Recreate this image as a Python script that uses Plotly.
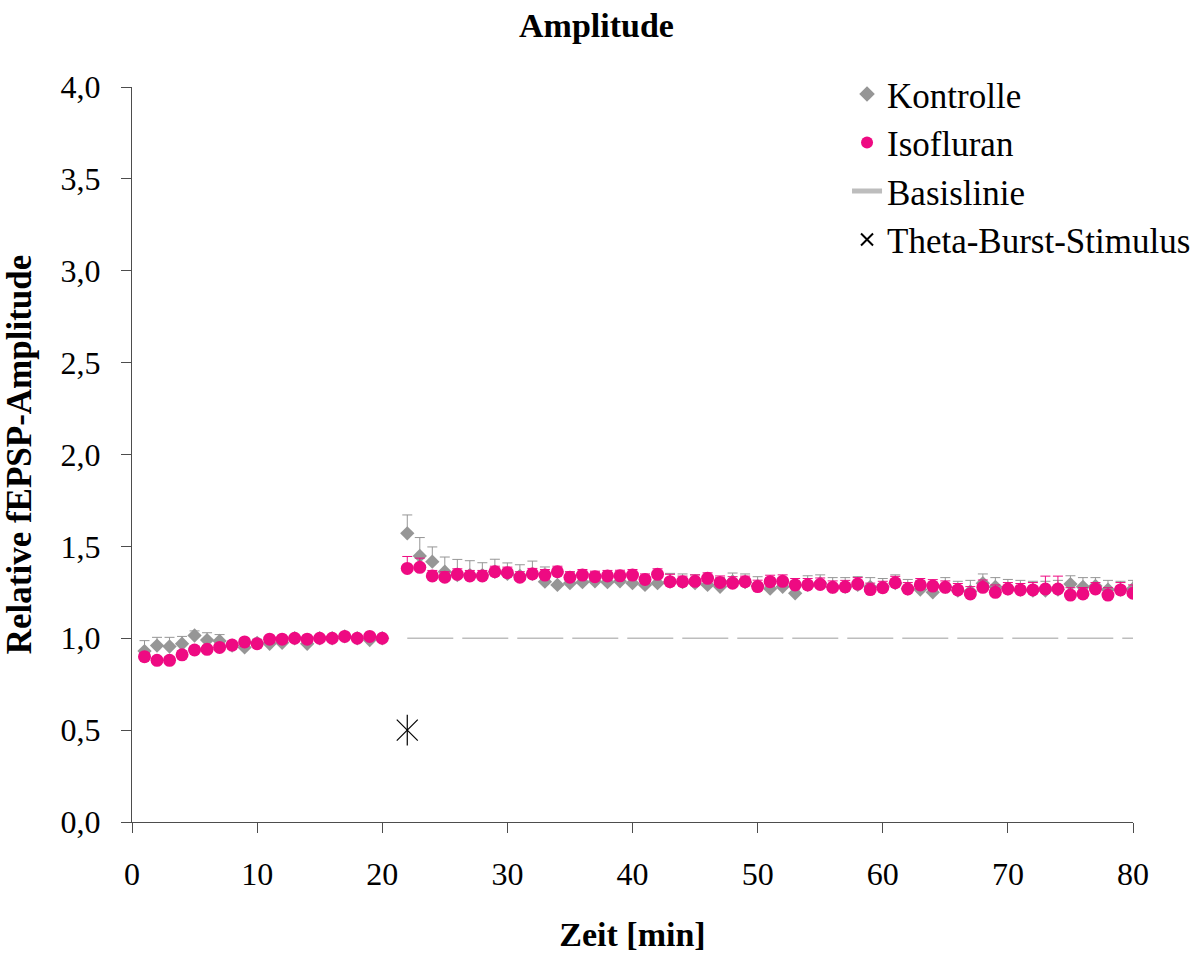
import plotly.graph_objects as go

# ---- data ----
time_pre = list(range(1, 21))
time_post = list(range(22, 81))
time = time_pre + time_post

kontrolle = [0.93, 0.96, 0.955, 0.97, 1.015, 0.99, 0.985, 0.96, 0.95, 0.975,
             0.97, 0.975, 1.0, 0.97, 1.0, 1.0, 1.01, 1.0, 0.99, 1.0,
             1.571, 1.448, 1.417, 1.362, 1.344, 1.344, 1.344, 1.362, 1.35, 1.34,
             1.35, 1.308, 1.29, 1.30, 1.305, 1.31, 1.305, 1.31, 1.30, 1.29,
             1.30, 1.308, 1.305, 1.30, 1.29, 1.28, 1.31, 1.305, 1.285, 1.27,
             1.28, 1.245, 1.29, 1.30, 1.28, 1.28, 1.29, 1.28, 1.28, 1.30,
             1.27, 1.265, 1.25, 1.28, 1.26, 1.255, 1.30, 1.28, 1.27, 1.265,
             1.26, 1.26, 1.265, 1.295, 1.28, 1.285, 1.265, 1.265, 1.27]
kontrolle_err = [0.057, 0.045, 0.05, 0.04, 0.025, 0.04, 0.035, 0.02, 0.02, 0.02,
                 0.02, 0.02, 0.015, 0.02, 0.015, 0.015, 0.015, 0.015, 0.02, 0.015,
                 0.10, 0.10, 0.08, 0.08, 0.085, 0.078, 0.067, 0.068, 0.06, 0.06,
                 0.07, 0.08, 0.07, 0.06, 0.06, 0.05, 0.05, 0.05, 0.05, 0.05,
                 0.05, 0.045, 0.045, 0.045, 0.05, 0.05, 0.045, 0.045, 0.05, 0.06,
                 0.05, 0.06, 0.05, 0.045, 0.05, 0.05, 0.045, 0.05, 0.045, 0.045,
                 0.05, 0.05, 0.055, 0.05, 0.05, 0.06, 0.05, 0.05, 0.05, 0.05,
                 0.05, 0.05, 0.05, 0.045, 0.05, 0.045, 0.05, 0.045, 0.045]
isofluran = [0.90, 0.88, 0.88, 0.91, 0.936, 0.94, 0.95, 0.963, 0.98, 0.97,
             0.995, 0.995, 1.0, 0.995, 1.0, 1.0, 1.01, 1.0, 1.01, 1.0,
             1.38, 1.386, 1.339, 1.332, 1.348, 1.339, 1.339, 1.362, 1.357, 1.332,
             1.35, 1.344, 1.362, 1.332, 1.344, 1.335, 1.339, 1.34, 1.344, 1.32,
             1.348, 1.308, 1.308, 1.31, 1.326, 1.304, 1.30, 1.308, 1.281, 1.308,
             1.31, 1.29, 1.29, 1.293, 1.277, 1.28, 1.295, 1.265, 1.275, 1.302,
             1.268, 1.29, 1.284, 1.277, 1.263, 1.241, 1.277, 1.25, 1.268, 1.263,
             1.263, 1.268, 1.268, 1.235, 1.241, 1.268, 1.235, 1.263, 1.245]
isofluran_err = [0.02, 0.02, 0.02, 0.02, 0.02, 0.02, 0.02, 0.02, 0.015, 0.015,
                 0.015, 0.015, 0.015, 0.015, 0.015, 0.015, 0.015, 0.015, 0.015, 0.015,
                 0.065, 0.05, 0.03, 0.03, 0.03, 0.03, 0.03, 0.03, 0.03, 0.03,
                 0.03, 0.03, 0.03, 0.03, 0.03, 0.03, 0.03, 0.03, 0.03, 0.03,
                 0.03, 0.04, 0.03, 0.035, 0.03, 0.035, 0.035, 0.03, 0.035, 0.035,
                 0.035, 0.035, 0.035, 0.035, 0.035, 0.035, 0.035, 0.035, 0.035, 0.035,
                 0.035, 0.035, 0.035, 0.035, 0.035, 0.04, 0.04, 0.04, 0.035, 0.035,
                 0.04, 0.07, 0.07, 0.04, 0.035, 0.035, 0.04, 0.04, 0.045]
baseline_x = [22, 81]
baseline_y = [1.0, 1.0]
tbs_x = [22]
tbs_y = [0.5]

y_ticks = [0, 0.5, 1.0, 1.5, 2.0, 2.5, 3.0, 3.5, 4.0]
x_ticks = [0, 10, 20, 30, 40, 50, 60, 70, 80]

GRAY = "#969696"
PINK = "#EE0A82"
FONT = "Liberation Serif"

fig = go.Figure()
fig.add_trace(go.Scatter(
    x=time, y=kontrolle, mode="markers", name="Kontrolle",
    marker=dict(symbol="diamond", size=11, color=GRAY, line=dict(width=0)),
    error_y=dict(type="data", array=kontrolle_err, symmetric=False,
                 arrayminus=[0] * len(kontrolle_err), color=GRAY,
                 thickness=1, width=5),
))
fig.add_trace(go.Scatter(
    x=time, y=isofluran, mode="markers", name="Isofluran",
    marker=dict(symbol="circle", size=13, color=PINK, line=dict(width=0)),
    error_y=dict(type="data", array=isofluran_err, symmetric=False,
                 arrayminus=[0] * len(isofluran_err), color=PINK,
                 thickness=1, width=5),
))
fig.add_trace(go.Scatter(
    x=baseline_x, y=baseline_y, mode="lines", name="Basislinie",
    line=dict(color="#BDBDBD", width=1.5, dash="46px,9px"),
))
fig.add_trace(go.Scatter(
    x=tbs_x, y=tbs_y, mode="markers", name="Theta-Burst-Stimulus",
    marker=dict(symbol="x-thin-open", size=21, color="black",
                line=dict(width=1.2, color="black")),
))
fig.add_trace(go.Scatter(
    x=tbs_x, y=tbs_y, mode="markers", showlegend=False, hoverinfo="skip",
    marker=dict(symbol="line-ns-open", size=22, color="black",
                line=dict(width=1.2, color="black")),
))

fig.update_layout(
    width=1193, height=953,
    margin=dict(l=132, r=60, t=87, b=131, autoexpand=False),
    paper_bgcolor="white", plot_bgcolor="white",
    separators=",.",
    font=dict(family=FONT, size=32, color="black"),
    title=dict(text="<b>Amplitude</b>", x=0.5, xref="container",
               y=1 - 25 / 953, yref="container", yanchor="middle",
               font=dict(family=FONT, size=34, color="black")),
    showlegend=True,
    legend=dict(x=0.710, y=0.932, xref="container", yref="container",
                xanchor="left", yanchor="top",
                bgcolor="rgba(0,0,0,0)", font=dict(family=FONT, size=35),
                itemsizing="constant", tracegroupgap=0),
    xaxis=dict(range=[0, 80], tickvals=x_ticks, ticks="outside", ticklen=10,
               tickcolor="#4d4d4d", showline=True, linecolor="#4d4d4d",
               linewidth=1, showgrid=False, zeroline=False, automargin=False,
               tickfont=dict(family=FONT, size=32),
               ticklabelstandoff=14,
               title=dict(text="<b>Zeit [min]</b>", standoff=34,
                          font=dict(family=FONT, size=34))),
    yaxis=dict(range=[0, 4], tickvals=y_ticks, tickformat=".1f", ticks="outside",
               ticklen=10, tickcolor="#4d4d4d", showline=True,
               linecolor="#4d4d4d", linewidth=1, showgrid=False,
               zeroline=False, automargin=False,
               tickfont=dict(family=FONT, size=32),
               ticklabelstandoff=14,
               title=dict(text="<b>Relative fEPSP-Amplitude</b>", standoff=30,
                          font=dict(family=FONT, size=35))),
)

fig.write_html("out.html")
